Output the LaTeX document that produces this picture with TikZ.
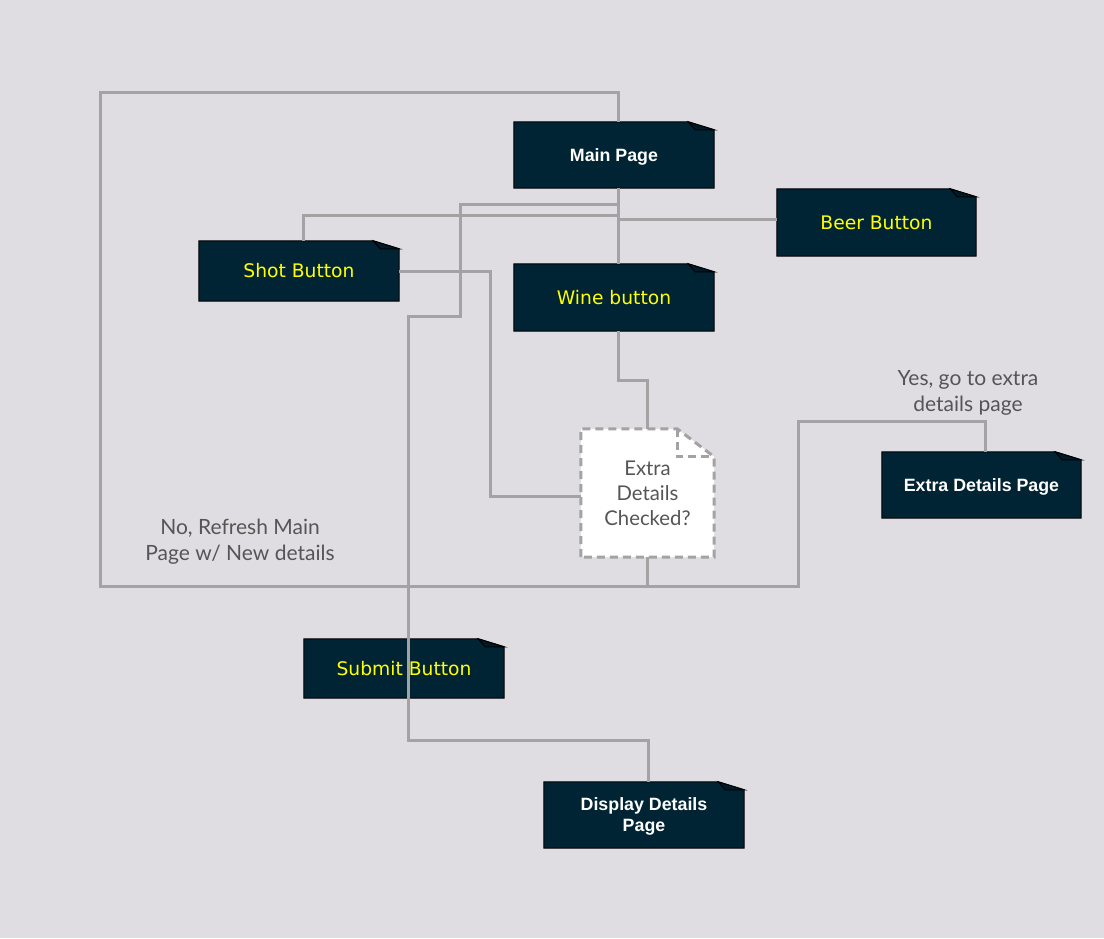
\documentclass[tikz,border=0pt]{standalone}
\usepackage{fontspec}
\newfontfamily\pagefont{Liberation Sans}
\newfontfamily\btnfont{DejaVu Sans}
\newfontfamily\lblfont{Lato}
\usetikzlibrary{backgrounds}
\definecolor{canvas}{RGB}{223,221,226}
\definecolor{navy}{RGB}{0,36,52}
\definecolor{flapcol}{RGB}{0,27,40}
\definecolor{wire}{RGB}{163,163,163}
\definecolor{lbl}{RGB}{85,85,85}
\definecolor{btnyellow}{RGB}{255,255,0}
\tikzset{
  pagebox/.style={minimum width=200, minimum height=66, inner sep=0, text=white,
    text depth=0pt, align=center, font=\pagefont\bfseries\fontsize{17.8}{21}\selectfont},
  btnbox/.style={minimum width=200, minimum height=60, inner sep=0, text=btnyellow,
    font=\btnfont\fontsize{18.7}{22}\selectfont},
  askbox/.style={minimum width=133, minimum height=128, inner sep=0, text=lbl,
    align=center, font=\lblfont\fontsize{20.3}{25}\selectfont},
  lbltext/.style={text=lbl, align=center, font=\lblfont\fontsize{21}{26}\selectfont},
  link/.style={draw=wire, line width=3},
  noteline/.style={fill=navy, draw=black, line width=1},
  askline/.style={fill=white, draw=wire, line width=3, dash pattern=on 8 off 5}
}
% note outline with folded corner, drawn behind the node text
\newcommand\drawnote[1]{%
  \path[noteline] (#1.south west) -- (#1.north west) -- ([xshift=-26]#1.north east)
    -- ([yshift=-8]#1.north east) -- (#1.south east) -- cycle;
  \path[noteline, fill=flapcol] ([xshift=-26]#1.north east)
    -- ([xshift=-19,yshift=-8]#1.north east) -- ([yshift=-8]#1.north east) -- cycle;}
\begin{document}
\begin{tikzpicture}[x=1pt, y=-1pt]
  \useasboundingbox (0,0) rectangle (1104,938);
  % pages and buttons
  \node[pagebox] (main) at (614,155) {Main Page};
  \node[btnbox, minimum width=199, minimum height=67] (beer) at (876.5,222.5) {Beer Button};
  \node[btnbox] (shot) at (299,271) {Shot Button};
  \node[btnbox, minimum height=67] (wine) at (614,297.5) {Wine button};
  \node[askbox, text depth=0pt] (check) at (647.5,493) {Extra\\Details\\Checked?};
  \node[pagebox, minimum width=199] (extra) at (981.5,485) {Extra Details Page};
  \node[btnbox, minimum height=59] (submit) at (404,668.5) {Submit Button};
  \node[pagebox] (display) at (644,815) {Display Details\\Page};
  % answers
  \node[lbltext] (yes) at (968,392.5) {Yes, go to extra\\details page};
  \node[lbltext] (no) at (240,541.5) {No, Refresh Main\\Page w/ New details};
  \begin{scope}[on background layer]
    \fill[canvas] (0,0) rectangle (1104,938);
    \drawnote{main}
    \drawnote{beer}
    \drawnote{shot}
    \drawnote{wine}
    \drawnote{extra}
    \drawnote{submit}
    \drawnote{display}
    \path[askline] (check.south west) -- (check.north west) -- ([xshift=-37]check.north east)
      -- ([yshift=-28]check.north east) -- (check.south east) -- cycle;
    \path[askline, fill=none] ([xshift=-37]check.north east)
      -- ([xshift=-37,yshift=-28]check.north east) -- ([yshift=-28]check.north east);
  \end{scope}
  % connectors
  \draw[link] ([xshift=4]main.south) -- ([xshift=4]wine.north);
  \draw[link] ([xshift=4]main.south) |- ([yshift=3.5]beer.west);
  \draw[link] ([xshift=4]main.south) -- ++(0,27) -| ([xshift=4]shot.north);
  \draw[link] ([xshift=4]main.south) -- ++(0,16) -| (460,316) -| (408,740)
    -| ([xshift=4]display.north);
  \draw[link] ([xshift=4]wine.south) -- ++(0,49) -| (check.north);
  \draw[link] (shot.east) -| (490,496) -- ([yshift=-3]check.west);
  \draw[link] (check.south) -- ++(0,29) -| (100,92) -| ([xshift=4]main.north);
  \draw[link] (check.south) -- ++(0,29) -| (798,421) -| ([xshift=4]extra.north);
\end{tikzpicture}
\end{document}
